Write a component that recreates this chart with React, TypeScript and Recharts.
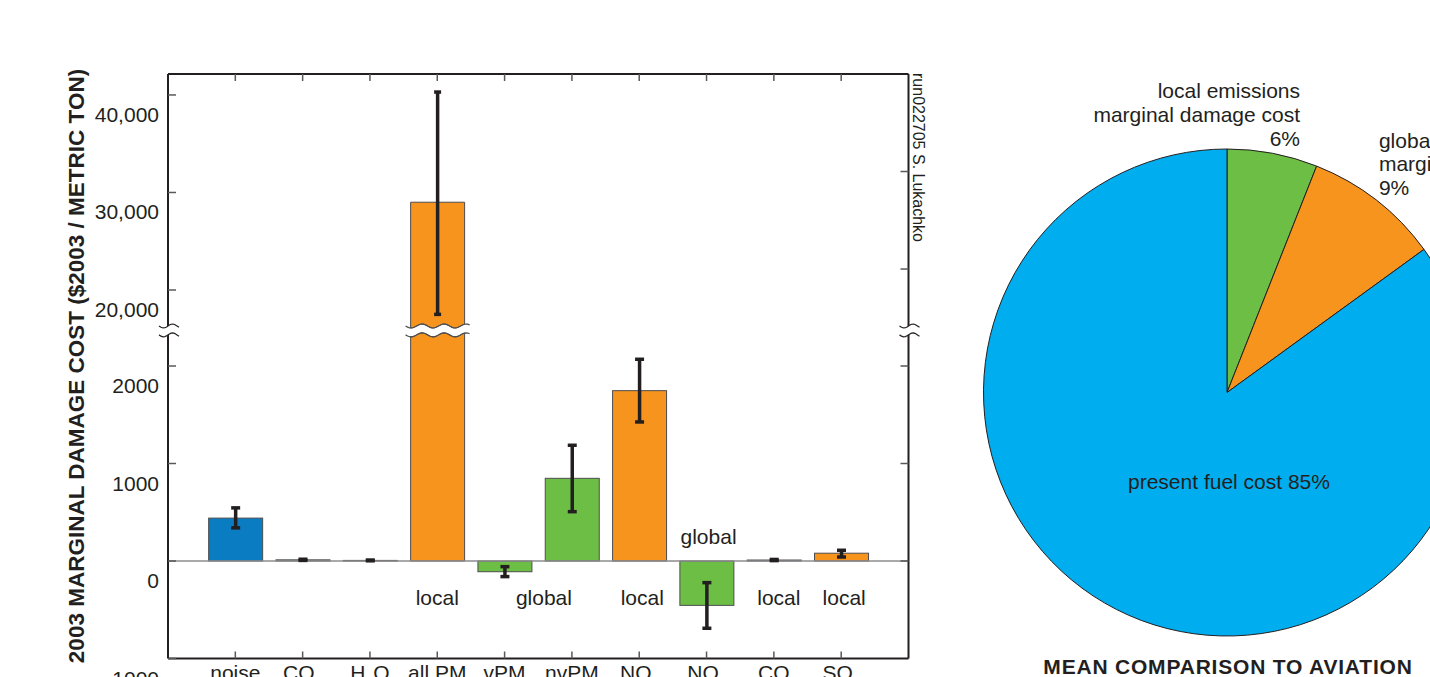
import React from 'react';
import {
  BarChart,
  Bar,
  XAxis,
  YAxis,
  ErrorBar,
  ReferenceLine,
  ReferenceDot,
  PieChart,
  Pie,
  Cell,
} from 'recharts';

// Marginal damage cost per emission ($2003 / metric ton), mean and uncertainty range
const categories = ['noise', 'CO_2', 'H_2O', 'all PM', 'vPM', 'nvPM', 'NO_x', 'NO_x', 'CO', 'SO_x'];
const damageCost = [440, 12, 6, 29000, -110, 848, 1747, -455, 10, 80];
const costLow = [340, 6, 2, 17500, -160, 506, 1426, -690, 4, 41];
const costHigh = [545, 18, 10, 40300, -58, 1187, 2069, -222, 16, 110];
const scope = ['noise', 'global', 'global', 'local', 'global', 'global', 'local', 'global', 'local', 'local'];

// local / global notes written next to the bars
const notes = [
  { at: 3, text: 'local', place: 'below' },
  { at: 5, text: 'global', place: 'below' },
  { at: 6, text: 'local', place: 'below' },
  { at: 7, text: 'global', place: 'above' },
  { at: 8, text: 'local', place: 'below' },
  { at: 9, text: 'local', place: 'below' },
];

const upperTicks = [20000, 30000, 40000];
const lowerTicks = [-1000, 0, 1000, 2000];
const rightUpperTicks = [22150, 32150];
const rightLowerTicks = [0, 1000, 2000];

// Mean comparison to aviation fuel cost (%)
const shareScopes = ['local', 'global', 'fuel'];
const shareValues = [6, 9, 85];

const FONT = '"Liberation Sans", Arial, Helvetica, sans-serif';
const INK = '#231f20';
const TICK = '#59595b';
const OUTLINE = '#4d4d4f';
const SCOPE_FILL: Record<string, string> = { noise: '#0a7cc2', local: '#f7941d', global: '#6dbe45' };
const SHARE_FILL = ['#6dbe45', '#f7941d', '#00adef'];

// plot frame and the broken value axis (page pixels)
const CHART_W = 960;
const PLOT_LEFT = 168;
const PLOT_RIGHT = 908.5;
const UPPER_TOP = 74;
const UPPER_BOTTOM = 329;
const UPPER_DOMAIN: [number, number] = [16000, 42150];
const LOWER_DOMAIN: [number, number] = [-1000, 2350];
const LOWER_BOTTOM = 658.5;
const PX_PER_UNIT = 0.0975;
const LOWER_TOP = LOWER_BOTTOM - (LOWER_DOMAIN[1] - LOWER_DOMAIN[0]) * PX_PER_UNIT;
const LOWER_BOX_TOP = 300;
const LOWER_BOX_H = 400;
const BAND_PAD = (PLOT_RIGHT - PLOT_LEFT) / 22;

const NOTE_Y: Record<string, number> = { below: -370, above: 250 };
const NOTE_SHIFT = [0, -28, 3, 2, 5, 3];

const rows = categories.map((name, i) => ({
  idx: i,
  name,
  scope: scope[i],
  cost: damageCost[i],
  err: [damageCost[i] - costLow[i], costHigh[i] - damageCost[i]],
}));

const shares = shareScopes.map((s, i) => ({ scope: s, value: shareValues[i] }));

// small sine wave used for the axis-break edges
function wave(x0: number, x1: number, yc: number, period: number, phaseX: number) {
  const pts: string[] = [];
  const n = Math.max(8, Math.round((x1 - x0) / 2));
  for (let i = 0; i <= n; i++) {
    const x = x0 + ((x1 - x0) * i) / n;
    const y = yc + 2 * Math.sin(((x - phaseX) / period) * 2 * Math.PI);
    pts.push(`${x.toFixed(2)},${y.toFixed(2)}`);
  }
  return pts;
}

// bar that gets a wavy edge where it runs through the axis break;
// `cutAt` is the plot edge in the chart's own svg coordinates
function BrokenBar(props: any) {
  const { x, y, width, height, payload, part, cutAt } = props;
  if (x == null || width == null) return null;
  const top = Math.min(y, y + height);
  const bottom = Math.max(y, y + height);
  const fill = SCOPE_FILL[payload.scope];
  const period = 22;
  const x0 = x - 5;
  const x1 = x + width + 5;

  if (part === 'upper') {
    if (top >= cutAt - 1) return null;
    if (bottom < cutAt - 1) {
      return <rect x={x} y={top} width={width} height={bottom - top} fill={fill} stroke={OUTLINE} strokeWidth={1} />;
    }
    const yc = cutAt - 3;
    const edge = wave(x, x + width, yc, period, x0).reverse();
    return (
      <g>
        <path d={`M${x},${top} L${x + width},${top} L${edge.join(' L')} Z`} fill={fill} stroke={OUTLINE} strokeWidth={1} />
        <polyline points={wave(x0, x1, yc, period, x0).join(' ')} fill="none" stroke={OUTLINE} strokeWidth={1.2} />
      </g>
    );
  }

  if (bottom <= cutAt + 1) return null;
  if (top > cutAt + 1) {
    return <rect x={x} y={top} width={width} height={Math.max(bottom - top, 0.5)} fill={fill} stroke={OUTLINE} strokeWidth={1} />;
  }
  const yc = cutAt + 3;
  const edge = wave(x, x + width, yc, period, x0);
  return (
    <g>
      <path d={`M${x},${bottom} L${edge.join(' L')} L${x + width},${bottom} Z`} fill={fill} stroke={OUTLINE} strokeWidth={1} />
      <polyline points={wave(x0, x1, yc, period, x0).join(' ')} fill="none" stroke={OUTLINE} strokeWidth={1.2} />
    </g>
  );
}

const LeftTick = ({ x, y, payload, comma }: any) => (
  <g>
    <line x1={x} x2={x + 8} y1={y} y2={y} stroke={TICK} strokeWidth={1.5} />
    <text x={x - 9} y={y + 19.5} textAnchor="end" dominantBaseline="central" fontSize={21} fill={INK} fontFamily={FONT}>
      {comma ? payload.value.toLocaleString('en-US') : String(payload.value)}
    </text>
  </g>
);

const RightTick = ({ x, y }: any) => <line x1={x} x2={x - 8} y1={y} y2={y} stroke={TICK} strokeWidth={1.5} />;

const TopTick = ({ x, y }: any) => <line x1={x} x2={x} y1={y} y2={y + 7} stroke={TICK} strokeWidth={1.5} />;

// category names use "_" to mark a one-letter subscript
const BottomTick = ({ x, y, payload }: any) => {
  const label = categories[payload.value] ?? '';
  const parts = label.split(/_(.)/);
  return (
    <g>
      <line x1={x} x2={x} y1={y} y2={y - 7} stroke={TICK} strokeWidth={1.5} />
      <text x={x} y={y + 21.5} textAnchor="middle" fontSize={21} fill={INK} fontFamily={FONT}>
        {parts.map((p, i) =>
          i % 2 === 1 ? (
            <tspan key={i} fontSize={14} dy={7}>{p}</tspan>
          ) : (
            <tspan key={i} dy={i > 0 ? -7 : 0}>{p}</tspan>
          )
        )}
      </text>
    </g>
  );
};

const NoteText = (props: any) => {
  const { cx, cy, text, shift } = props;
  return (
    <text x={cx + shift} y={cy} textAnchor="middle" dominantBaseline="central" fontSize={21} fill={INK} fontFamily={FONT}>
      {text}
    </text>
  );
};

const RADIAN = Math.PI / 180;

// where each slice label sits, relative to the slice rim (or centre for the fuel slice)
const SHARE_LABEL = [
  { anchor: 'end', dx: 27.4, dy: -7.8 },
  { anchor: 'start', dx: 2.7, dy: -5 },
  { anchor: 'middle', dx: 2, dy: 96.5 },
];

const renderShareLabel = (props: any) => {
  const { cx, cy, midAngle, outerRadius, index, value, payload } = props;
  const pos = SHARE_LABEL[index];
  const common = { fontSize: 21, fill: INK, fontFamily: FONT, textAnchor: pos.anchor as any };
  if (payload.scope === 'fuel') {
    return (
      <text key={index} x={cx + pos.dx} y={cy + pos.dy} {...common}>
        present fuel cost {value}%
      </text>
    );
  }
  const ox = cx + outerRadius * Math.cos(-midAngle * RADIAN);
  const oy = cy + outerRadius * Math.sin(-midAngle * RADIAN);
  const lines = [`${payload.scope} emissions`, 'marginal damage cost', `${value}%`];
  return (
    <text key={index} x={ox + pos.dx} y={oy + pos.dy - 47.4} {...common}>
      {lines.map((l, i) => (
        <tspan key={i} x={ox + pos.dx} dy={i === 0 ? 0 : 23.7}>
          {l}
        </tspan>
      ))}
    </text>
  );
};

const BreakMark = ({ x }: { x: number }) => {
  const ya = UPPER_BOTTOM - 3;
  const yb = LOWER_TOP + 3;
  const a = wave(x - 9, x + 11, ya, 18, x - 9);
  const b = wave(x - 9, x + 11, yb, 18, x - 9);
  return (
    <g>
      <path d={`M${a.join(' L')} L${b.slice().reverse().join(' L')} Z`} fill="#fff" />
      <polyline points={a.join(' ')} fill="none" stroke={INK} strokeWidth={1.2} />
      <polyline points={b.join(' ')} fill="none" stroke={INK} strokeWidth={1.2} />
    </g>
  );
};

export default function App() {
  const axisLine = { stroke: INK, strokeWidth: 2 };
  return (
    <div
      style={{
        position: 'absolute',
        left: 0,
        top: 0,
        width: 1430,
        height: 677,
        overflow: 'hidden',
        background: '#fff',
        fontFamily: FONT,
      }}
    >
      {/* upper segment of the broken axis (16,000 - 42,000) */}
      <div style={{ position: 'absolute', left: 0, top: 0, width: CHART_W, height: UPPER_BOTTOM + 1, overflow: 'hidden' }}>
        <BarChart
          width={CHART_W}
          height={UPPER_BOTTOM + 1}
          data={rows}
          margin={{ top: UPPER_TOP - 30, left: PLOT_LEFT - 60, right: CHART_W - PLOT_RIGHT - 40, bottom: 1 }}
        >
          <XAxis
            dataKey="idx"
            orientation="top"
            height={30}
            padding={{ left: BAND_PAD, right: BAND_PAD }}
            interval={0}
            tickSize={0}
            tickMargin={0}
            axisLine={axisLine}
            tickLine={false}
            tick={<TopTick />}
          />
          <YAxis
            width={60}
            type="number"
            domain={UPPER_DOMAIN}
            allowDataOverflow
            ticks={upperTicks}
            interval={0}
            tickSize={0}
            tickMargin={0}
            axisLine={axisLine}
            tickLine={false}
            tick={<LeftTick comma />}
          />
          <YAxis
            yAxisId="r"
            orientation="right"
            width={40}
            type="number"
            domain={UPPER_DOMAIN}
            allowDataOverflow
            ticks={rightUpperTicks}
            interval={0}
            tickSize={0}
            tickMargin={0}
            axisLine={axisLine}
            tickLine={false}
            tick={<RightTick />}
          />
          <Bar
            dataKey="cost"
            barSize={54}
            isAnimationActive={false}
            shape={(p: any) => <BrokenBar {...p} part="upper" cutAt={UPPER_BOTTOM} />}
          >
            <ErrorBar dataKey="err" width={3.5} strokeWidth={3.5} stroke={INK} isAnimationActive={false} />
          </Bar>
        </BarChart>
      </div>

      {/* lower segment of the broken axis (-1000 - 2350) */}
      <div style={{ position: 'absolute', left: 0, top: LOWER_BOX_TOP, width: CHART_W, height: LOWER_BOX_H }}>
        <BarChart
          width={CHART_W}
          height={LOWER_BOX_H}
          data={rows}
          margin={{
            top: LOWER_TOP - LOWER_BOX_TOP,
            left: PLOT_LEFT - 60,
            right: CHART_W - PLOT_RIGHT - 40,
            bottom: 0,
          }}
        >
          <XAxis
            dataKey="idx"
            height={LOWER_BOX_TOP + LOWER_BOX_H - LOWER_BOTTOM}
            padding={{ left: BAND_PAD, right: BAND_PAD }}
            interval={0}
            tickSize={0}
            tickMargin={0}
            axisLine={axisLine}
            tickLine={false}
            tick={<BottomTick />}
          />
          <YAxis
            width={60}
            type="number"
            domain={LOWER_DOMAIN}
            allowDataOverflow
            ticks={lowerTicks}
            interval={0}
            tickSize={0}
            tickMargin={0}
            axisLine={axisLine}
            tickLine={false}
            tick={<LeftTick />}
          />
          <YAxis
            yAxisId="r"
            orientation="right"
            width={40}
            type="number"
            domain={LOWER_DOMAIN}
            allowDataOverflow
            ticks={rightLowerTicks}
            interval={0}
            tickSize={0}
            tickMargin={0}
            axisLine={axisLine}
            tickLine={false}
            tick={<RightTick />}
          />
          <ReferenceLine y={0} stroke="#8c8c8e" strokeWidth={1.5} />
          <Bar
            dataKey="cost"
            barSize={54}
            isAnimationActive={false}
            shape={(p: any) => <BrokenBar {...p} part="lower" cutAt={LOWER_TOP - LOWER_BOX_TOP} />}
          >
            <ErrorBar dataKey="err" width={4.5} strokeWidth={3.5} stroke={INK} isAnimationActive={false} />
          </Bar>
          {notes.map((n, i) => (
            <ReferenceDot
              key={i}
              x={n.at}
              y={NOTE_Y[n.place]}
              r={0}
              shape={(p: any) => <NoteText {...p} text={n.text} shift={NOTE_SHIFT[i]} />}
            />
          ))}
        </BarChart>
      </div>

      {/* comparison pie */}
      <div style={{ position: 'absolute', left: 960, top: 0 }}>
        <PieChart width={470} height={677} margin={{ top: 0, left: 0, right: 0, bottom: 0 }}>
          <Pie
            data={shares}
            dataKey="value"
            cx={267}
            cy={392.5}
            outerRadius={243.5}
            startAngle={90}
            endAngle={-270}
            stroke={INK}
            strokeWidth={1}
            label={renderShareLabel}
            labelLine={false}
            isAnimationActive={false}
          >
            {shares.map((s, i) => (
              <Cell key={s.scope} fill={SHARE_FILL[i]} />
            ))}
          </Pie>
        </PieChart>
      </div>

      {/* titles, credit line and axis-break marks */}
      <svg
        width={1430}
        height={677}
        style={{ position: 'absolute', left: 0, top: 0, pointerEvents: 'none' }}
      >
        <text
          x={84}
          y={366}
          transform="rotate(-90 84 366)"
          textAnchor="middle"
          fontSize={22.5}
          fontWeight="bold"
          fill={INK}
          fontFamily={FONT}
        >
          2003 MARGINAL DAMAGE COST ($2003 / METRIC TON)
        </text>
        <text x={913} y={73} transform="rotate(90 913 73)" fontSize={16} fill={INK} fontFamily={FONT}>
          run022705 S. Lukachko
        </text>
        <BreakMark x={PLOT_LEFT} />
        <BreakMark x={PLOT_RIGHT} />
        <text
          x={1228}
          y={673.5}
          textAnchor="middle"
          fontSize={21}
          fontWeight="bold"
          letterSpacing={0.8}
          fill={INK}
          fontFamily={FONT}
        >
          MEAN COMPARISON TO AVIATION
        </text>
      </svg>
    </div>
  );
}
